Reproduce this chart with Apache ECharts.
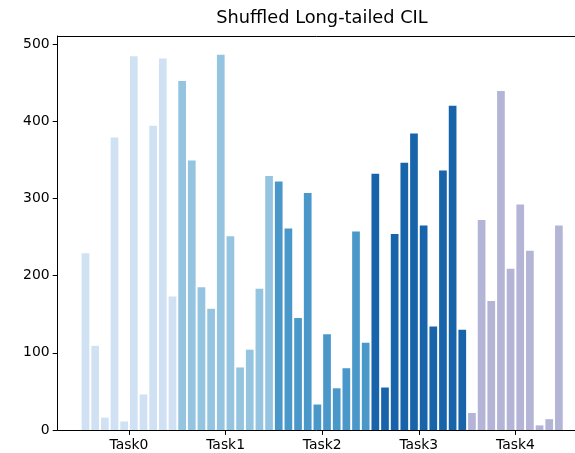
<!DOCTYPE html>
<html>
<head>
<meta charset="utf-8">
<script src="https://cdn.jsdelivr.net/npm/echarts@6/dist/echarts.min.js"></script>
<style>
html,body{margin:0;padding:0;background:#fff;}
#chart{width:575px;height:453px;}
</style>
</head>
<body>
<div id="chart"></div>
<script>
var taskLabels = ['Task0', 'Task1', 'Task2', 'Task3', 'Task4'];
var taskColors = ['#cfe1f2', '#94c4df', '#4a98c9', '#1764ab', '#b4b4d6'];
var classesPerTask = 10;
var classCounts = [
  229, 109, 16, 379, 11, 484, 46, 394, 481, 173,
  452, 349, 185, 157, 486, 251, 81, 104, 183, 329,
  322, 261, 145, 307, 33, 124, 54, 80, 257, 113,
  332, 55, 254, 346, 384, 265, 134, 336, 420, 130,
  22, 272, 167, 439, 209, 292, 232, 6, 14, 265
];
var yTicks = [0, 100, 200, 300, 400, 500];

var n = classCounts.length;
var barData = classCounts.map(function (v, i) { return [i, v]; });
var tickPositions = taskLabels.map(function (_, t) { return t * classesPerTask + (classesPerTask - 1) / 2; });
var pad = 0.05 * (n - 1 + 0.8);
var xMin = -0.4 - pad;
var xMaxFull = n - 1 + 0.4 + pad;
// full axes width would be 529.2px (plot extends past the picture edge); show the visible part only
var plotLeft = 57.6, fullWidth = 529.2, visibleWidth = 575 - plotLeft;
var xMax = xMin + (xMaxFull - xMin) * visibleWidth / fullWidth;

var chart = echarts.init(document.getElementById('chart'));
chart.setOption({
  animation: false,
  backgroundColor: '#fff',
  textStyle: { fontFamily: 'DejaVu Sans' },
  title: {
    text: 'Shuffled Long-tailed CIL',
    left: 322, textAlign: 'center', top: 9, padding: 0,
    textStyle: { fontFamily: 'DejaVu Sans', fontSize: 17.8, fontWeight: 'normal', color: '#000' }
  },
  grid: {
    left: plotLeft, top: 36, right: 0, bottom: 23,
    show: false
  },
  xAxis: [{
    type: 'value',
    min: xMin, max: xMax,
    splitLine: { show: false },
    axisLine: { show: true, onZero: false, lineStyle: { color: '#000', width: 1 } },
    axisTick: { show: true, length: 4.9, lineStyle: { color: '#000' }, customValues: tickPositions },
    axisLabel: {
      customValues: tickPositions,
      color: '#000', fontSize: 13.9, fontFamily: 'DejaVu Sans', margin: 8,
      formatter: function (v) {
        var idx = Math.round((v - (classesPerTask - 1) / 2) / classesPerTask);
        return taskLabels[idx] || '';
      }
    }
  }, {
    type: 'value', position: 'top',
    min: xMin, max: xMax,
    splitLine: { show: false },
    axisLine: { show: true, onZero: false, lineStyle: { color: '#000', width: 1 } },
    axisTick: { show: false },
    axisLabel: { show: false }
  }],
  yAxis: {
    type: 'value',
    min: 0, max: Math.max.apply(null, classCounts) * 1.05,
    interval: 100,
    splitLine: { show: false },
    axisLine: { show: true, onZero: false, lineStyle: { color: '#000', width: 1 } },
    axisTick: { show: true, length: 4.9, lineStyle: { color: '#000' }, customValues: yTicks },
    axisLabel: { customValues: yTicks, color: '#000', fontSize: 13.9, fontFamily: 'DejaVu Sans', margin: 8 }
  },
  series: [{
    type: 'bar',
    data: barData,
    xAxisIndex: 0,
    barWidth: 7.7,
    itemStyle: {
      color: function (p) { return taskColors[Math.floor(p.dataIndex / classesPerTask)]; }
    }
  }]
});
</script>
</body>
</html>
